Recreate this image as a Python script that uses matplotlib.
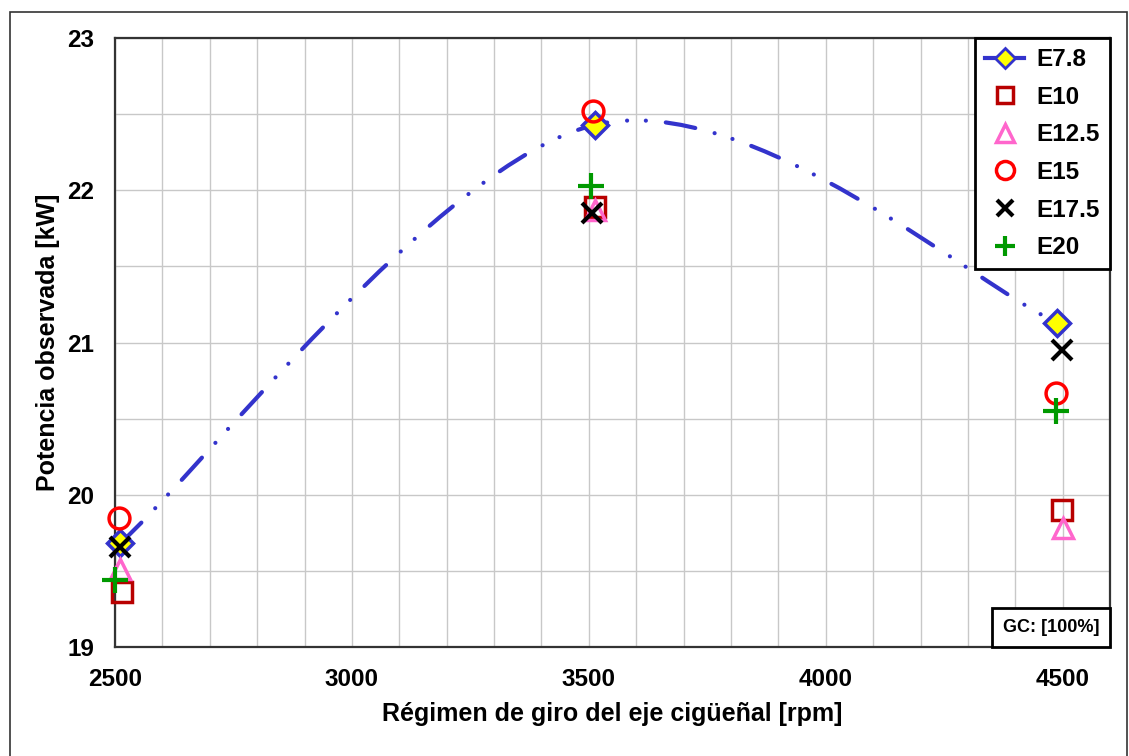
import matplotlib.pyplot as plt
from matplotlib.path import Path
from matplotlib.patches import PathPatch, Rectangle
from matplotlib.lines import Line2D
from matplotlib.offsetbox import AnchoredText

plt.rcParams['font.family'] = ['Liberation Sans', 'DejaVu Sans']

# Data (rpm, kW)
rpm_e78 = [2510, 3513, 4489]
pot_e78 = [19.68, 22.43, 21.13]

rpm_e10 = [2515, 3513, 4498]
pot_e10 = [19.36, 21.89, 19.90]

rpm_e125 = [2511, 3513, 4500]
pot_e125 = [19.51, 21.87, 19.78]

rpm_e15 = [2508, 3508, 4485]
pot_e15 = [19.85, 22.52, 20.67]

rpm_e175 = [2510, 3506, 4498]
pot_e175 = [19.66, 21.85, 20.95]

rpm_e20 = [2500, 3504, 4487]
pot_e20 = [19.44, 22.03, 20.55]

x_ticks = [2500, 3000, 3500, 4000, 4500]
y_ticks = [19, 20, 21, 22, 23]

blue = '#3333cc'

fig = plt.figure(figsize=(11.29, 7.56), dpi=100)
ax = fig.add_axes([0.1019, 0.1442, 0.8813, 0.8055])

# outer chart-area border
fig.patches.append(Rectangle((10 / 1129, -0.01), 1117 / 1129, 1 - 12 / 756 + 0.01,
                             transform=fig.transFigure, fill=False,
                             ec='#333333', lw=1.2))


def smooth_path(xs, ys, k=1 / 6):
    # Excel-style smoothed line: cubic Bezier through the points
    pts = list(zip(xs, ys))
    n = len(pts)
    verts = [pts[0]]
    codes = [Path.MOVETO]
    for i in range(n - 1):
        p0 = pts[i - 1] if i > 0 else pts[i]
        p1 = pts[i]
        p2 = pts[i + 1]
        p3 = pts[i + 2] if i + 2 < n else pts[i + 1]
        c1 = (p1[0] + k * (p2[0] - p0[0]), p1[1] + k * (p2[1] - p0[1]))
        c2 = (p2[0] - k * (p3[0] - p1[0]), p2[1] - k * (p3[1] - p1[1]))
        verts += [c1, c2, p2]
        codes += [Path.CURVE4] * 3
    return Path(verts, codes)


dash = (0, (7.2, 4.8, 0.01, 4.5, 0.01, 4.8))
curve = PathPatch(smooth_path(rpm_e78, pot_e78), fill=False, ec=blue, lw=3,
                  linestyle=dash, capstyle='round', zorder=3)
ax.add_patch(curve)

ax.plot(rpm_e78, pot_e78, linestyle='none', marker='D', ms=13, mfc='#ffff00',
        mec=blue, mew=2.5, zorder=4, clip_on=False)
ax.plot(rpm_e10, pot_e10, linestyle='none', marker='s', ms=14, mfc='none',
        mec='#b80000', mew=2.5, zorder=4, clip_on=False)
ax.plot(rpm_e125, pot_e125, linestyle='none', marker='^', ms=15, mfc='none',
        mec='#ff66cc', mew=2.5, zorder=4, clip_on=False)
ax.plot(rpm_e15, pot_e15, linestyle='none', marker='o', ms=15, mfc='none',
        mec='#ff0000', mew=2.5, zorder=5, clip_on=False)
ax.plot(rpm_e175, pot_e175, linestyle='none', marker='x', ms=14, mec='black',
        mew=3, zorder=5, clip_on=False)
ax.plot(rpm_e20, pot_e20, linestyle='none', marker='+', ms=19, mec='#009900',
        mew=3, zorder=5, clip_on=False)

ax.set_xlim(2500, 4600)
ax.set_ylim(19, 23)
ax.set_xticks(x_ticks)
ax.set_yticks(y_ticks)
ax.set_xticks(range(2500, 4600, 100), minor=True)
ax.set_yticks([19.5, 20.5, 21.5, 22.5], minor=True)
ax.grid(True, which='both', color='#c8c8c8', lw=1)
ax.set_axisbelow(True)
ax.tick_params(which='both', length=0)
ax.tick_params(axis='x', pad=15, labelsize=17.5)
ax.tick_params(axis='y', pad=15, labelsize=17.5)
for lab in ax.get_xticklabels() + ax.get_yticklabels():
    lab.set_fontweight('bold')
for s in ax.spines.values():
    s.set_color('#333333')
    s.set_linewidth(1.6)

ax.set_xlabel('Régimen de giro del eje cigüeñal [rpm]', fontsize=18,
              fontweight='bold', labelpad=8)
ax.set_ylabel('Potencia observada [kW]', fontsize=18, fontweight='bold',
              labelpad=5)

handles = [
    Line2D([], [], color=blue, lw=3, marker='D', ms=10, mfc='#ffff00', mec=blue, mew=2),
    Line2D([], [], linestyle='none', marker='s', ms=12, mfc='none', mec='#b80000', mew=2.5),
    Line2D([], [], linestyle='none', marker='^', ms=13, mfc='none', mec='#ff66cc', mew=2.5),
    Line2D([], [], linestyle='none', marker='o', ms=13, mfc='none', mec='#ff0000', mew=2.5),
    Line2D([], [], linestyle='none', marker='x', ms=12, mec='black', mew=3),
    Line2D([], [], linestyle='none', marker='+', ms=15, mec='#009900', mew=3),
]
labels = ['E7.8', 'E10', 'E12.5', 'E15', 'E17.5', 'E20']
leg = ax.legend(handles, labels, loc='upper right', bbox_to_anchor=(1, 1),
                borderaxespad=0, fancybox=False, framealpha=1, edgecolor='black',
                prop={'weight': 'bold', 'size': 17.5}, handlelength=1.6,
                handletextpad=0.5, labelspacing=0.6, borderpad=0.42)
leg.get_frame().set_linewidth(2)
leg.set_zorder(10)

gc = AnchoredText('GC: [100%]', loc='lower right', frameon=True, borderpad=0,
                  pad=0.6, prop={'size': 13, 'weight': 'bold'})
gc.patch.set_boxstyle('square,pad=0')
gc.patch.set_linewidth(2)
gc.patch.set_edgecolor('black')
gc.set_zorder(10)
ax.add_artist(gc)

fig.savefig('out.png', dpi=100)
